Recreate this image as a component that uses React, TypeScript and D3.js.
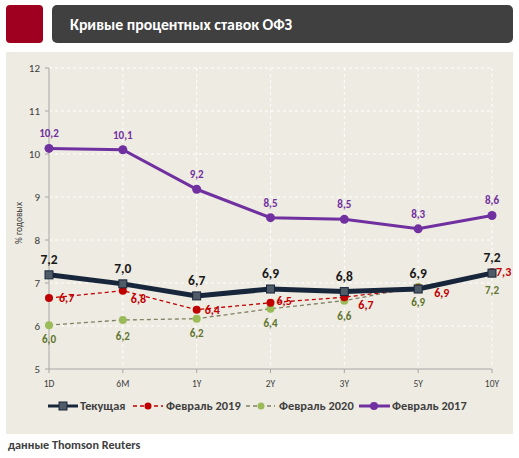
import React from "react";
import * as d3 from "d3";

const categories = ["1D", "6M", "1Y", "2Y", "3Y", "5Y", "10Y"];
const current = [7.19, 6.98, 6.7, 6.86, 6.8, 6.86, 7.23];
const currentLabels = ["7,2", "7,0", "6,7", "6,9", "6,8", "6,9", "7,2"];
const feb2019 = [6.65, 6.82, 6.38, 6.54, 6.67, 6.88, 7.25];
const feb2019Labels = ["6,7", "6,8", "6,4", "6,5", "6,7", "6,9", "7,3"];
const feb2020 = [6.02, 6.14, 6.17, 6.4, 6.59, 6.91, 7.22];
const feb2020Labels = ["6,0", "6,2", "6,2", "6,4", "6,6", "6,9", "7,2"];
const feb2017 = [10.13, 10.1, 9.18, 8.52, 8.48, 8.26, 8.57];
const feb2017Labels = ["10,2", "10,1", "9,2", "8,5", "8,5", "8,3", "8,6"];
const yTicks = [5, 6, 7, 8, 9, 10, 11, 12];
const legendNames = ["Текущая", "Февраль 2019", "Февраль 2020", "Февраль 2017"];

const FONT = "Calibri, Carlito, 'Liberation Sans', 'Open Sans', sans-serif";

export default function App() {
  const x = d3.scalePoint<string>().domain(categories).range([49, 492]);
  const y = d3.scaleLinear().domain([5, 12]).range([369, 68]);
  const line = d3
    .line<number>()
    .x((_, i) => x(categories[i]) as number)
    .y((d) => y(d));

  const red = "#c00000";
  const purple = "#7030a0";
  const navy = "#17263a";
  const greenM = "#9bbb59";
  const greenL = "#7f8264";
  const olive = "#5f7530";
  const txt = "#404040";

  const r19: [number, number, string][] = [
    [10, 4, "start"],
    [8, 12, "start"],
    [8, 4, "start"],
    [6, 2, "start"],
    [14, 12, "start"],
    [16, 9, "start"],
    [4, 4, "start"],
  ];
  const g20: [number, number][] = [
    [0, 18],
    [0, 20],
    [0, 18],
    [0, 18],
    [0, 19],
    [0, 19],
    [0, 20],
  ];

  return (
    <svg width={519} height={458} style={{ position: "absolute", left: 0, top: 0 }} fontFamily={FONT}>
      <rect x={0} y={0} width={519} height={458} fill="#ffffff" />
      <rect x={6} y={5} width={37} height={38} rx={4} fill="#a00020" />
      <rect x={52} y={5} width={461} height={38} rx={5} fill="#404040" />
      <text x={70} y={30} fill="#ffffff" fontSize={15.8} fontWeight="bold">
        Кривые процентных ставок ОФЗ
      </text>
      <rect x={6} y={52} width={507} height={382} fill="#eeebe2" />

      {yTicks.slice(1).map((t) => (
        <line key={"h" + t} x1={49} x2={492} y1={y(t)} y2={y(t)} stroke="#ffffff" strokeWidth={1} strokeDasharray="3,3" />
      ))}
      {categories.slice(1).map((c) => (
        <line key={"v" + c} x1={x(c)} x2={x(c)} y1={y(12)} y2={y(5)} stroke="#ffffff" strokeWidth={1} strokeDasharray="3,3" />
      ))}
      <line x1={49} x2={49} y1={y(12)} y2={y(5)} stroke="#a6a6a6" strokeWidth={1} />
      <line x1={49} x2={492} y1={y(5)} y2={y(5)} stroke="#a6a6a6" strokeWidth={1} />
      {yTicks.map((t) => (
        <g key={"yt" + t}>
          <line x1={45} x2={49} y1={y(t)} y2={y(t)} stroke="#a6a6a6" />
          <text x={40} y={y(t) + 4} textAnchor="end" fontSize={11} fill={txt}>
            {t}
          </text>
        </g>
      ))}
      {categories.map((c) => (
        <g key={"xt" + c}>
          <line x1={x(c)} x2={x(c)} y1={y(5)} y2={y(5) + 4} stroke="#a6a6a6" />
          <text x={x(c)} y={387} textAnchor="middle" fontSize={9.5} fill={txt}>
            {c}
          </text>
        </g>
      ))}
      <text transform={`translate(22,223) rotate(-90)`} textAnchor="middle" fontSize={9.5} fill={txt}>
        % годовых
      </text>

      <path d={line(feb2017) || ""} fill="none" stroke={purple} strokeWidth={3} />
      {feb2017.map((v, i) => (
        <circle key={"p" + i} cx={x(categories[i])} cy={y(v)} r={4.5} fill={purple} />
      ))}
      {feb2017.map((v, i) => (
        <text key={"pl" + i} x={x(categories[i])} y={y(v) - 11} textAnchor="middle" fontSize={11} fontWeight="bold" fill={purple}>
          {feb2017Labels[i]}
        </text>
      ))}

      <path d={line(feb2020) || ""} fill="none" stroke={greenL} strokeWidth={1.3} strokeDasharray="4,3" />
      {feb2020.map((v, i) => (
        <circle key={"g" + i} cx={x(categories[i])} cy={y(v)} r={4} fill={greenM} />
      ))}

      <path d={line(feb2019) || ""} fill="none" stroke={red} strokeWidth={1.3} strokeDasharray="4,3" />
      {feb2019.map((v, i) => (
        <circle key={"r" + i} cx={x(categories[i])} cy={y(v)} r={4} fill={red} />
      ))}

      <path d={line(current) || ""} fill="none" stroke={navy} strokeWidth={5} />
      {current.map((v, i) => (
        <rect key={"c" + i} x={(x(categories[i]) as number) - 4} y={y(v) - 4} width={8} height={8} fill="#4f5b66" stroke={navy} strokeWidth={1} />
      ))}
      {current.map((v, i) => (
        <text key={"cl" + i} x={x(categories[i])} y={y(v) - 11} textAnchor="middle" fontSize={13.5} fontWeight="bold" fill="#1a1a1a">
          {currentLabels[i]}
        </text>
      ))}

      {feb2020.map((v, i) => (
        <text key={"gl" + i} x={(x(categories[i]) as number) + g20[i][0]} y={y(v) + g20[i][1]} textAnchor="middle" fontSize={11} fontWeight="bold" fill={olive}>
          {feb2020Labels[i]}
        </text>
      ))}
      {feb2019.map((v, i) => (
        <text key={"rl" + i} x={(x(categories[i]) as number) + r19[i][0]} y={y(v) + r19[i][1]} textAnchor={r19[i][2] as any} fontSize={12} fontWeight="bold" fill={red}>
          {feb2019Labels[i]}
        </text>
      ))}

      <g fontSize={12.4} fontWeight="bold" fill={txt}>
        <line x1={48} x2={78} y1={406} y2={406} stroke={navy} strokeWidth={3} />
        <rect x={59} y={402} width={8} height={8} fill="#4f5b66" stroke={navy} />
        <text x={80} y={410}>{legendNames[0]}</text>
        <line x1={133} x2={163} y1={406} y2={406} stroke={red} strokeWidth={1.3} strokeDasharray="4,3" />
        <circle cx={148} cy={406} r={3.5} fill={red} />
        <text x={166} y={410}>{legendNames[1]}</text>
        <line x1={246} x2={275} y1={406} y2={406} stroke={greenL} strokeWidth={1.3} strokeDasharray="4,3" />
        <circle cx={261} cy={406} r={3.5} fill={greenM} />
        <text x={279} y={410}>{legendNames[2]}</text>
        <line x1={359} x2={390} y1={406} y2={406} stroke={purple} strokeWidth={3} />
        <circle cx={374} cy={406} r={4} fill={purple} />
        <text x={392} y={410}>{legendNames[3]}</text>
      </g>

      <text x={8} y={449} fontSize={12.2} fontWeight="bold" fill={txt}>
        данные  Thomson Reuters
      </text>
    </svg>
  );
}
